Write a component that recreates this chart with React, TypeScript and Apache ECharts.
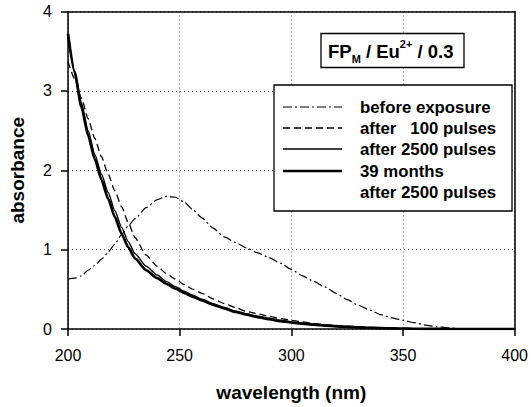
import React, { useEffect, useRef } from "react";
import * as echarts from "echarts";

// ---- data ----
const wavelengths = [
  200, 203, 206, 209, 212, 215, 218, 221, 224, 227, 230, 235, 240, 244, 248, 252, 256, 260, 265, 270,
  275, 280, 285, 290, 295, 300, 305, 310, 315, 320, 325, 330, 335, 340, 345, 350, 355, 360, 365, 370,
  375, 380, 390, 400,
];

const beforeExposure = [
  0.63, 0.64, 0.67, 0.74, 0.8, 0.88, 0.97, 1.07, 1.19, 1.3, 1.39, 1.53, 1.63, 1.67, 1.66, 1.6, 1.5, 1.4, 1.27, 1.16,
  1.09, 1.02, 0.96, 0.9, 0.83, 0.75, 0.67, 0.6, 0.53, 0.45, 0.37, 0.3, 0.24, 0.18, 0.14, 0.11, 0.08, 0.05, 0.03, 0.015,
  0.005, 0, 0, 0,
];

const after100 = [
  3.37, 3.15, 2.91, 2.65, 2.4, 2.17, 1.95, 1.74, 1.54, 1.34, 1.15, 0.93, 0.79, 0.7, 0.63, 0.56, 0.5, 0.45, 0.38, 0.32,
  0.27, 0.22, 0.19, 0.16, 0.13, 0.11, 0.09, 0.07, 0.055, 0.045, 0.035, 0.028, 0.02, 0.015, 0.01, 0.008, 0.005, 0.003, 0.002, 0.001,
  0, 0, 0, 0,
];

const after2500 = [
  3.68, 3.25, 2.85, 2.5, 2.2, 1.95, 1.72, 1.49, 1.28, 1.1, 0.95, 0.79, 0.68, 0.6, 0.535, 0.475, 0.425, 0.375, 0.32, 0.27,
  0.225, 0.19, 0.16, 0.135, 0.11, 0.09, 0.074, 0.06, 0.048, 0.038, 0.03, 0.023, 0.017, 0.012, 0.008, 0.005, 0.003, 0.002, 0.001, 0,
  0, 0, 0, 0,
];

const months39 = [
  3.72, 3.23, 2.8, 2.44, 2.14, 1.88, 1.64, 1.41, 1.2, 1.03, 0.89, 0.74, 0.64, 0.57, 0.51, 0.455, 0.405, 0.36, 0.305, 0.26,
  0.215, 0.18, 0.15, 0.125, 0.1, 0.082, 0.067, 0.054, 0.043, 0.034, 0.027, 0.021, 0.016, 0.011, 0.008, 0.005, 0.003, 0.002, 0.001, 0,
  0, 0, 0, 0,
];

const xTicks = { min: 200, max: 400, interval: 50 };
const yTicks = { min: 0, max: 4, interval: 1 };

const legendLabels = ["before exposure", "after   100 pulses", "after 2500 pulses", "39 months", "after 2500 pulses"];

const FONT = "'Liberation Sans', Arial, Helvetica, sans-serif";

function pairs(values: number[]) {
  return wavelengths.map((w, i) => [w, values[i]]);
}

export default function App() {
  const ref = useRef<HTMLDivElement>(null);

  useEffect(() => {
    if (!ref.current) return;
    const chart = echarts.init(ref.current, undefined, { renderer: "svg" });

    const lineStyles: any[] = [
      { type: [9, 3, 2, 3], width: 1.2 },
      { type: [7, 4], width: 1.3 },
      { type: "solid", width: 1.4 },
      { type: "solid", width: 2.7 },
    ];
    const seriesData = [beforeExposure, after100, after2500, months39];
    const names = ["before exposure", "after 100 pulses", "after 2500 pulses", "39 months after 2500 pulses"];

    const legendX1 = 283;
    const legendX2 = 342;
    const rowY = [107, 128, 149, 171, 192];

    const graphics: any[] = [
      {
        type: "rect",
        z: 100,
        shape: { x: 321, y: 33.5, width: 143, height: 34 },
        style: { fill: "#fff", stroke: "#000", lineWidth: 1.3 },
      },
      {
        type: "text",
        z: 101,
        x: 328,
        y: 38,
        style: {
          text: "{a|FP}{s|M}{a| / Eu}{p|2+}{a| / 0.3}",
          fill: "#000",
          rich: {
            a: { fontSize: 18.5, fontWeight: "bold", fontFamily: FONT, lineHeight: 26, fill: "#000" },
            s: { fontSize: 11, fontWeight: "bold", fontFamily: FONT, lineHeight: 12, verticalAlign: "bottom", fill: "#000" },
            p: { fontSize: 11, fontWeight: "bold", fontFamily: FONT, lineHeight: 12, verticalAlign: "top", fill: "#000" },
          },
        },
      },
      {
        type: "rect",
        z: 100,
        shape: { x: 274, y: 85, width: 238, height: 126 },
        style: { fill: "#fff", stroke: "#000", lineWidth: 1.3 },
      },
    ];

    lineStyles.forEach((ls, i) => {
      graphics.push({
        type: "line",
        z: 101,
        shape: { x1: legendX1, y1: rowY[i], x2: legendX2, y2: rowY[i] },
        style: {
          stroke: "#000",
          lineWidth: ls.width,
          lineDash: Array.isArray(ls.type) ? ls.type : null,
        },
      });
    });
    legendLabels.forEach((t, i) => {
      graphics.push({
        type: "text",
        z: 101,
        x: 360,
        y: rowY[i],
        style: {
          text: t,
          fill: "#000",
          font: `bold 16.8px ${FONT}`,
          verticalAlign: "middle",
          align: "left",
        },
      });
    });

    const mkTick = () => ({ show: true, length: 7, lineStyle: { color: "#000", width: 1.5 } });
    const mkSplit = () => ({ show: true, lineStyle: { type: [1, 3], color: "#555", width: 1 } });
    const mkLine = () => ({ show: true, onZero: false, lineStyle: { color: "#000", width: 1.5 } });
    const frameAxis = {
      axisLine: { show: true, onZero: false, lineStyle: { color: "#000", width: 1.5 } },
      axisTick: { show: false },
      axisLabel: { show: false },
      splitLine: { show: false },
    };

    chart.setOption({
      animation: false,
      backgroundColor: "#fff",
      grid: { left: 62, right: 15, top: 11.5, bottom: 73 },
      xAxis: [
        {
          type: "value",
          ...xTicks,
          position: "bottom",
          name: "wavelength (nm)",
          nameLocation: "middle",
          nameGap: 54,
          nameTextStyle: { fontSize: 19, fontWeight: "bold", color: "#000", fontFamily: FONT },
          axisLine: mkLine(),
          axisTick: mkTick(),
          axisLabel: { show: true, fontSize: 16, color: "#000", margin: 18, fontFamily: FONT },
          splitLine: mkSplit(),
        },
        { type: "value", ...xTicks, position: "top", ...frameAxis },
      ],
      yAxis: [
        {
          type: "value",
          ...yTicks,
          position: "left",
          name: "absorbance",
          nameLocation: "middle",
          nameGap: 41,
          nameTextStyle: { fontSize: 19, fontWeight: "bold", color: "#000", fontFamily: FONT },
          axisLine: mkLine(),
          axisTick: mkTick(),
          axisLabel: { show: true, fontSize: 16, color: "#000", margin: 16, fontFamily: FONT },
          splitLine: mkSplit(),
        },
        { type: "value", ...yTicks, position: "right", ...frameAxis },
      ],
      series: seriesData.map((d, i) => ({
        type: "line",
        name: names[i],
        data: pairs(d),
        xAxisIndex: 0,
        yAxisIndex: 0,
        symbol: "none",
        showSymbol: false,
        smooth: 0.2,
        smoothMonotone: "x",
        lineStyle: { color: "#000", width: lineStyles[i].width, type: lineStyles[i].type },
        z: 3,
      })),
      graphic: graphics,
    });

    return () => {
      chart.dispose();
    };
  }, []);

  return (
    <div
      ref={ref}
      style={{ position: "fixed", left: 0, top: 0, width: 531, height: 407, background: "#fff" }}
    />
  );
}
